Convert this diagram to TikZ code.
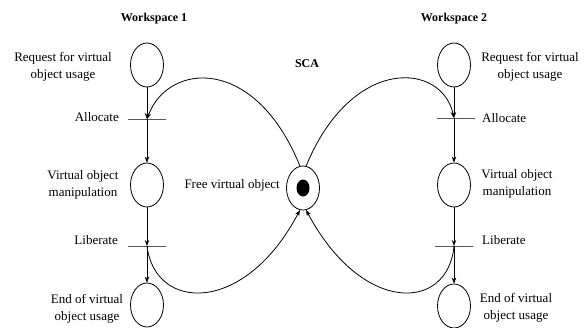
\documentclass[tikz,border=0pt]{standalone}
\usepackage{fontspec}
\setmainfont{Liberation Serif}
\usetikzlibrary{shapes.geometric,arrows.meta}
\begin{document}
\begin{tikzpicture}[x=1pt,y=-1pt,
  place/.style={draw,ellipse,line width=0.8pt,minimum width=33pt,minimum height=44pt,inner sep=0pt},
  bar/.style={draw,rectangle,line width=0.8pt,minimum width=38pt,minimum height=0pt,inner sep=0pt},
  lbl/.style={font=\fontsize{13}{17}\selectfont,align=center,inner sep=0pt},
  ttl/.style={font=\fontsize{12}{14}\selectfont\bfseries,inner sep=0pt},
  arc/.style={line width=0.8pt,-{Stealth[length=6pt,width=4.5pt]}}]
\useasboundingbox (0,0) rectangle (585,327);
\fill[white] (0,0) rectangle (585,327);
% titles
\node[ttl] (w1) at (154,19) {Workspace 1};
\node[ttl] (w2) at (454,19) {Workspace 2};
\node[ttl] (scat) at (307,64) {SCA};
% left column
\node[place] (r1) at (147,65) {};
\node[bar] (a1) at (147,119) {};
\node[place] (m1) at (147,185) {};
\node[bar] (l1) at (147,246) {};
\node[place] (e1) at (147,305) {};
% right column
\node[place] (r2) at (454,65) {};
\node[bar] (a2) at (456,118) {};
\node[place] (m2) at (454,185) {};
\node[bar] (l2) at (454,246) {};
\node[place] (e2) at (454,306) {};
\coordinate (a2c) at (454,118);
% shared place
\node[place] (sca) at (303,188) {};
\fill (sca.center) ellipse (6.5pt and 8.5pt);
% labels left
\node[lbl] (tr1) at (63,67) {Request for virtual\\object usage};
\node[lbl,anchor=east] (ta1) at (119,117) {Allocate};
\node[lbl] (tm1) at (83,185) {Virtual object\\manipulation};
\node[lbl,anchor=east] (tl1) at (118,240) {Liberate};
\node[lbl] (te1) at (87,309) {End of virtual\\object usage};
\node[lbl,anchor=east] (tf) at (280,185) {Free virtual object};
% labels right
\node[lbl] (tr2) at (530,67) {Request for virtual\\object usage};
\node[lbl,anchor=west] (ta2) at (482,118) {Allocate};
\node[lbl] (tm2) at (517,184) {Virtual object\\manipulation};
\node[lbl,anchor=west] (tl2) at (482,240) {Liberate};
\node[lbl] (te2) at (516,308) {End of virtual\\object usage};
% vertical arcs
\draw[arc] (r1) -- (a1.center);
\draw[arc] (a1.center) -- (m1);
\draw[arc] (m1) -- (l1.center);
\draw[arc] (l1.center) -- (e1);
\draw[arc] (r2) -- (a2c);
\draw[arc] (a2c) -- (m2);
\draw[arc] (m2) -- (l2.center);
\draw[arc] (l2.center) -- (e2);
% curved arcs
\draw[arc] (sca.98) .. controls (255,55) and (168,62) .. (a1.center);
\draw[arc] (sca.82) .. controls (352,55) and (442,62) .. (a2c);
\draw[arc] (l1.center) .. controls (155,312) and (245,315) .. (sca.-98);
\draw[arc] (l2.center) .. controls (448,312) and (362,315) .. (sca.-82);
\end{tikzpicture}
\end{document}
